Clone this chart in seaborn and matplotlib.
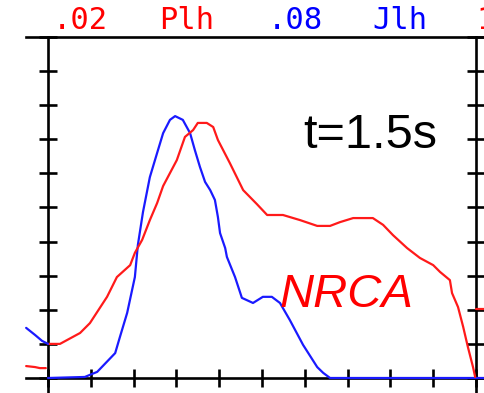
import matplotlib
matplotlib.use("Agg")
import matplotlib.pyplot as plt
import seaborn as sns
import pandas as pd

sns.set_style("white")

# ---- data ----
blue_x = [0, 0.86, 1.15, 1.57, 1.68, 1.85, 2.03, 2.10, 2.22, 2.38, 2.55, 2.69, 2.85, 2.97,
          3.15, 3.32, 3.43, 3.55, 3.67, 3.79, 3.90, 3.97, 4.02, 4.14, 4.18, 4.37, 4.53,
          4.79, 5.02, 5.23, 5.42, 5.65, 5.96, 6.29, 6.43, 6.59, 10.0, 10.25]
blue_y = [0, 0.03, 0.18, 0.73, 1.20, 1.91, 2.96, 3.90, 4.87, 5.89, 6.60, 7.18, 7.57, 7.68,
          7.57, 7.18, 6.69, 6.19, 5.75, 5.51, 5.22, 4.72, 4.25, 3.81, 3.55, 2.96, 2.35,
          2.20, 2.38, 2.38, 2.20, 1.70, 0.97, 0.32, 0.15, 0, 0, 0]

red_x = [0, 0.28, 0.75, 0.98, 1.38, 1.61, 1.92, 2.03, 2.20, 2.38, 2.55, 2.69, 3.01, 3.20,
         3.39, 3.50, 3.71, 3.86, 3.97, 4.25, 4.56, 4.88, 5.12, 5.49, 5.89, 6.29, 6.59,
         6.82, 7.13, 7.59, 7.83, 8.06, 8.39, 8.69, 9.00, 9.16, 9.39, 9.44, 9.58, 9.70,
         9.81, 9.93, 9.98]
red_y = [1.00, 1.00, 1.32, 1.61, 2.38, 2.96, 3.31, 3.67, 4.05, 4.63, 5.13, 5.63, 6.39, 7.07,
         7.27, 7.48, 7.48, 7.36, 6.98, 6.30, 5.51, 5.10, 4.78, 4.78, 4.63, 4.46, 4.46,
         4.57, 4.69, 4.69, 4.49, 4.19, 3.81, 3.52, 3.31, 3.11, 2.87, 2.49, 2.08, 1.50,
         0.91, 0.32, 0.03]

# fragments of the neighbouring panel visible left of the axis
blue_left_x = [-0.51, -0.30, -0.14, 0]
blue_left_y = [1.47, 1.26, 1.09, 1.00]
red_left_x = [-0.51, -0.30, -0.19, -0.05]
red_left_y = [0.35, 0.32, 0.29, 0.29]
red_mark_x = [10.0, 10.25]
red_mark_y = [2.02, 2.02]

x_ticks = list(range(0, 11))
y_ticks = list(range(0, 11))
top_labels = [".02", "Plh", ".08", "Jlh", "1"]
top_label_colors = ["#ff0000", "#ff0000", "#0000ff", "#0000ff", "#ff0000"]
top_label_x = [0.75, 3.25, 5.77, 8.22, 10.0]
top_label_ha = ["center", "center", "center", "center", "left"]

RED = "#ff1a1a"
BLUE = "#1a1aff"

fig = plt.figure(figsize=(4.85, 3.93), dpi=100)
ax = fig.add_axes([0, 0, 1, 1])
ax.set_facecolor("white")

ax.set_xlim(-1.121, 10.21)
ax.set_ylim(-0.44, 11.085)

def draw(xs, ys, color):
    df = pd.DataFrame({"x": xs, "y": ys})
    sns.lineplot(data=df, x="x", y="y", sort=False, estimator=None, color=color,
                 linewidth=1.6, ax=ax, zorder=3)

draw(blue_x, blue_y, BLUE)
draw(red_x, red_y, RED)
draw(blue_left_x, blue_left_y, BLUE)
draw(red_left_x, red_left_y, RED)
draw(red_mark_x, red_mark_y, RED)

# axes frame like the old instrument plot
for side in ["left", "right", "top", "bottom"]:
    ax.spines[side].set_visible(True)
    ax.spines[side].set_color("black")
    ax.spines[side].set_linewidth(1.9)
    ax.spines[side].set_zorder(2)
ax.spines["left"].set_position(("data", 0))
ax.spines["right"].set_position(("data", 10))
ax.spines["bottom"].set_position(("data", 0))
ax.spines["top"].set_position(("data", 10))
ax.spines["left"].set_bounds(-0.44, 10)
ax.spines["right"].set_bounds(-0.44, 10)
ax.spines["bottom"].set_bounds(-0.51, 10.21)
ax.spines["top"].set_bounds(-0.51, 10.21)

ax.set_xticks(x_ticks)
ax.set_yticks(y_ticks)
ax.xaxis.set_ticks_position("bottom")
ax.yaxis.set_ticks_position("both")
ax.tick_params(axis="both", which="major", direction="inout", length=13, width=1.9,
               color="black", labelbottom=False, labelleft=False, labelright=False)
ax.set_xlabel("")
ax.set_ylabel("")
ax.grid(False)

for lab, col, xx, ha in zip(top_labels, top_label_colors, top_label_x, top_label_ha):
    ax.text(xx, 10.23, lab, color=col, ha=ha, va="baseline",
            fontsize=22, family="DejaVu Sans Mono")

ax.text(5.958, 6.745, "t=1.5s", color="black", ha="left", va="baseline",
        fontsize=35, family="Liberation Sans")
ax.text(5.42, 2.08, "NRCA", color="#ff0000", ha="left", va="baseline",
        fontsize=34, family="Liberation Sans", style="italic")

fig.savefig("out.png", dpi=100, facecolor="white")
